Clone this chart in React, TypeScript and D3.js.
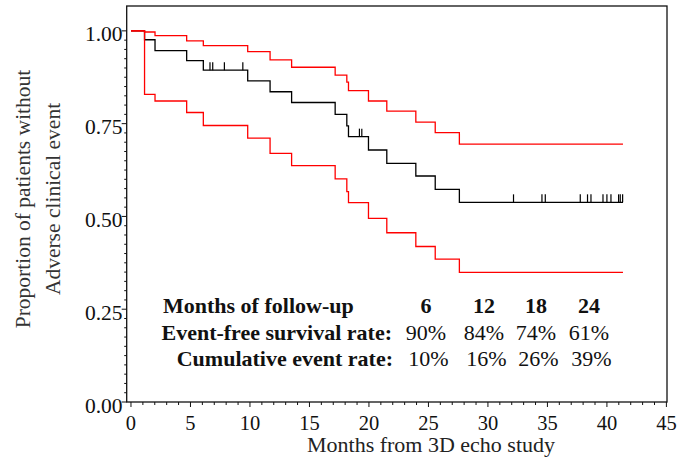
import React from "react";
import * as d3 from "d3";

// ---- data ----
const eventTimes = [1.14, 2.02, 4.68, 6.08, 9.81, 11.69, 13.5, 17.16, 18.14, 18.28, 19.96, 21.5, 23.94, 25.57, 27.6];
const survival = [0.976, 0.947, 0.92, 0.894, 0.865, 0.836, 0.807, 0.775, 0.744, 0.715, 0.679, 0.643, 0.609, 0.573, 0.538];
const upperCI = [0.997, 0.987, 0.973, 0.96, 0.944, 0.922, 0.902, 0.881, 0.862, 0.839, 0.811, 0.784, 0.754, 0.726, 0.695];
const lowerCI = [0.829, 0.811, 0.78, 0.745, 0.711, 0.67, 0.637, 0.601, 0.567, 0.537, 0.495, 0.456, 0.419, 0.385, 0.349];
const followUpEnd = 41.35;
const censorTimes = [6.64, 6.87, 7.85, 9.4, 19.2, 19.4, 32.15, 34.54, 34.82, 37.76, 38.37, 38.66, 39.67, 40.0, 40.34, 40.98, 41.12, 41.32];

const xTicks = [0, 5, 10, 15, 20, 25, 30, 35, 40, 45];
const yTicks = [0, 0.25, 0.5, 0.75, 1.0];

const tableHeader = "Months of follow-up";
const tableMonths = ["6", "12", "18", "24"];
const rowLabels = ["Event-free survival rate:", "Cumulative event rate:"];
const eventFreeRates = ["90%", "84%", "74%", "61%"];
const cumulativeRates = ["10%", "16%", "26%", "39%"];

const xLabel = "Months from 3D echo study";
const yLabel1 = "Proportion of patients without";
const yLabel2 = "Adverse clinical event";

// ---- layout ----
const W = 681, H = 462;
const L = 126.7, R = 667, T = 6, B = 402;
const FONT = "'Liberation Serif', 'Times New Roman', serif";

export default function App() {
  const x = d3.scaleLinear().domain([-0.36, 45.05]).range([L, R]);
  const y = d3.scaleLinear().domain([0, 1.067]).range([B, T]);

  const stepLine = d3
    .line<[number, number]>()
    .x((d) => x(d[0]))
    .y((d) => y(d[1]))
    .curve(d3.curveStepAfter);

  const build = (vals: number[]): [number, number][] => {
    const pts: [number, number][] = [[0, 1]];
    eventTimes.forEach((t, i) => pts.push([t, vals[i]]));
    pts.push([followUpEnd, vals[vals.length - 1]]);
    return pts;
  };

  const survAt = (t: number) => {
    let v = 1;
    eventTimes.forEach((et, i) => {
      if (et <= t) v = survival[i];
    });
    return v;
  };

  const minorX = d3.range(0, 46, 1);
  const minorY = d3.range(0, 1.0001, 0.025);

  const colCenters = [426, 484, 536, 589];

  return (
    <svg
      width={W}
      height={H}
      style={{ position: "absolute", left: 0, top: 0, background: "#fff" }}
      fontFamily={FONT}
    >
      <rect x={0} y={0} width={W} height={H} fill="#fff" />

      {/* curves */}
      <path d={stepLine(build(survival)) || ""} fill="none" stroke="#000" strokeWidth={1.3} />
      <path d={stepLine(build(upperCI)) || ""} fill="none" stroke="#ff0000" strokeWidth={1.3} />
      <path d={stepLine(build(lowerCI)) || ""} fill="none" stroke="#ff0000" strokeWidth={1.3} />

      {/* censor marks */}
      {censorTimes.map((t, i) => (
        <line
          key={"c" + i}
          x1={x(t)}
          x2={x(t)}
          y1={y(survAt(t))}
          y2={y(survAt(t)) - 8}
          stroke="#000"
          strokeWidth={1.2}
        />
      ))}

      {/* frame */}
      <rect x={L} y={T} width={R - L} height={B - T} fill="none" stroke="#111" strokeWidth={1.3} />

      {/* x axis ticks */}
      {minorX.map((v) => (
        <line key={"mx" + v} x1={x(v)} x2={x(v)} y1={B} y2={B + (v % 5 === 0 ? 5 : 3)} stroke="#111" strokeWidth={1} />
      ))}
      {xTicks.map((v) => (
        <text key={"xt" + v} x={x(v)} y={429.5} textAnchor="middle" fontSize={20.5} fill="#111">
          {v}
        </text>
      ))}

      {/* y axis ticks */}
      {minorY.map((v, i) => (
        <line key={"my" + i} x1={L} x2={L - (i % 10 === 0 ? 5 : 2.5)} y1={y(v)} y2={y(v)} stroke="#111" strokeWidth={1} />
      ))}
      {yTicks.map((v) => (
        <text key={"yt" + v} x={122.5} y={y(v) + 10.5} textAnchor="end" fontSize={21.5} fill="#111">
          {d3.format(".2f")(v)}
        </text>
      ))}

      {/* axis labels */}
      <text x={431} y={452} textAnchor="middle" fontSize={22} fill="#222">
        {xLabel}
      </text>
      <text transform={`translate(30,199) rotate(-90)`} textAnchor="middle" fontSize={21.5} fill="#333">
        {yLabel1}
      </text>
      <text transform={`translate(60,199) rotate(-90)`} textAnchor="middle" fontSize={21.5} fill="#333">
        {yLabel2}
      </text>

      {/* table */}
      <text x={163} y={312.5} fontSize={22} fontWeight="bold" fill="#111">
        {tableHeader}
      </text>
      {tableMonths.map((m, i) => (
        <text key={"m" + i} x={colCenters[i]} y={312.5} textAnchor="middle" fontSize={22} fontWeight="bold" fill="#111">
          {m}
        </text>
      ))}
      <text x={392} y={340} textAnchor="end" fontSize={22} fontWeight="bold" fill="#111">
        {rowLabels[0]}
      </text>
      {eventFreeRates.map((r, i) => (
        <text key={"e" + i} x={colCenters[i]} y={340} textAnchor="middle" fontSize={22} fill="#111">
          {r}
        </text>
      ))}
      <text x={393} y={366} textAnchor="end" fontSize={22} fontWeight="bold" fill="#111">
        {rowLabels[1]}
      </text>
      {cumulativeRates.map((r, i) => (
        <text key={"cr" + i} x={colCenters[i] + 2.5} y={366} textAnchor="middle" fontSize={22} fill="#111">
          {r}
        </text>
      ))}
    </svg>
  );
}
